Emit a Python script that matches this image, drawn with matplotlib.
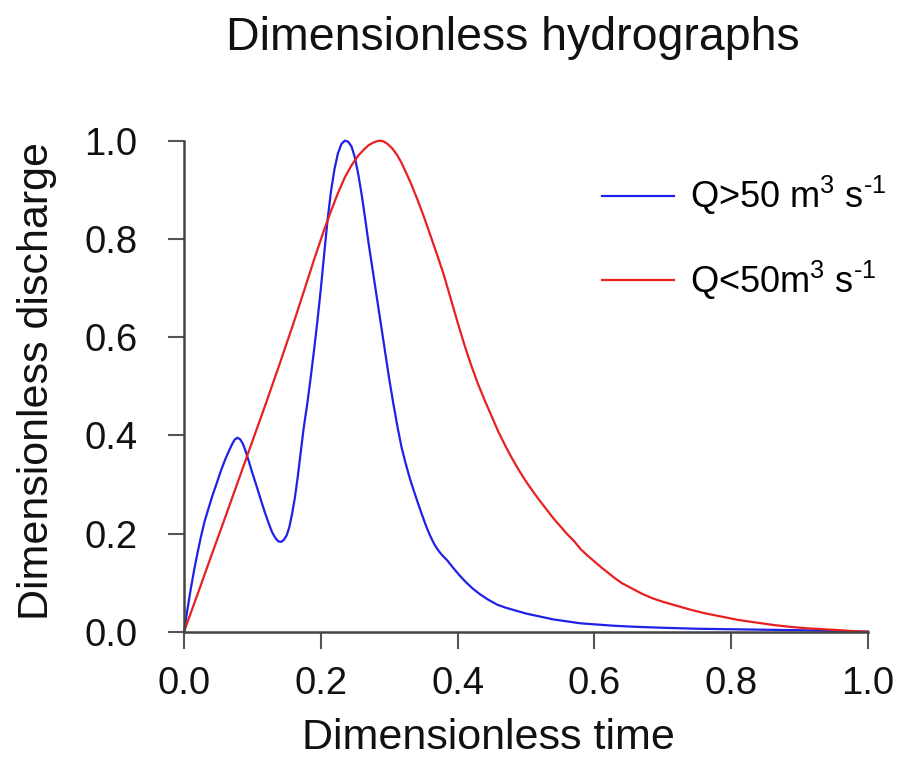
import matplotlib
matplotlib.use('Agg')
import matplotlib.pyplot as plt

plt.rcParams['font.family'] = ['Liberation Sans', 'DejaVu Sans']
plt.rcParams['mathtext.fontset'] = 'custom'
plt.rcParams['mathtext.rm'] = 'Liberation Sans'
plt.rcParams['mathtext.it'] = 'Liberation Sans:italic'

# Q > 50 m3/s (blue)
t_high = [0.000, 0.005, 0.010, 0.015, 0.020, 0.025, 0.030, 0.036, 0.042, 0.048,
          0.054, 0.060, 0.065, 0.070, 0.074, 0.078, 0.082, 0.086, 0.090, 0.095,
          0.100, 0.106, 0.112, 0.118, 0.124, 0.129, 0.134, 0.138, 0.142, 0.146,
          0.150, 0.154, 0.158, 0.162, 0.166, 0.170, 0.175, 0.180, 0.185, 0.190,
          0.195, 0.200, 0.205, 0.210, 0.215, 0.220, 0.225, 0.230, 0.235, 0.240,
          0.245, 0.250, 0.255, 0.260, 0.265, 0.270, 0.276, 0.282, 0.288, 0.294,
          0.300, 0.306, 0.312, 0.318, 0.324, 0.330, 0.336, 0.342, 0.348, 0.354,
          0.360, 0.366, 0.372, 0.378, 0.385, 0.393, 0.402, 0.412, 0.422, 0.433,
          0.445, 0.458, 0.470, 0.485, 0.500, 0.520, 0.540, 0.560, 0.580, 0.600,
          0.630, 0.660, 0.700, 0.750, 0.800, 0.850, 0.900, 0.950, 1.000]
q_high = [0.000, 0.045, 0.088, 0.127, 0.162, 0.195, 0.224, 0.252, 0.279, 0.303,
          0.328, 0.350, 0.366, 0.381, 0.391, 0.395, 0.392, 0.383, 0.368, 0.346,
          0.323, 0.297, 0.270, 0.244, 0.220, 0.202, 0.190, 0.184, 0.183, 0.187,
          0.196, 0.213, 0.240, 0.272, 0.312, 0.358, 0.415, 0.462, 0.515, 0.572,
          0.632, 0.698, 0.770, 0.840, 0.898, 0.942, 0.974, 0.993, 1.000, 0.998,
          0.988, 0.965, 0.930, 0.888, 0.840, 0.790, 0.735, 0.680, 0.625, 0.570,
          0.515, 0.465, 0.418, 0.376, 0.343, 0.313, 0.287, 0.262, 0.238, 0.215,
          0.195, 0.178, 0.165, 0.155, 0.145, 0.131, 0.116, 0.101, 0.088, 0.076,
          0.065, 0.055, 0.049, 0.043, 0.037, 0.031, 0.025, 0.021, 0.017, 0.015,
          0.012, 0.010, 0.008, 0.006, 0.005, 0.004, 0.003, 0.0015, 0.000]

# Q < 50 m3/s (red)
t_low = [0.000, 0.020, 0.040, 0.060, 0.080, 0.100, 0.120, 0.140, 0.160, 0.175,
         0.190, 0.204, 0.215, 0.225, 0.235, 0.245, 0.255, 0.263, 0.270, 0.278,
         0.285, 0.291, 0.297, 0.304, 0.311, 0.318, 0.325, 0.333, 0.341, 0.350,
         0.360, 0.370, 0.380, 0.390, 0.400, 0.410, 0.420, 0.430, 0.440, 0.450,
         0.460, 0.470, 0.480, 0.490, 0.500, 0.510, 0.520, 0.530, 0.540, 0.550,
         0.560, 0.570, 0.580, 0.590, 0.600, 0.610, 0.620, 0.630, 0.640, 0.655,
         0.670, 0.685, 0.700, 0.720, 0.740, 0.760, 0.785, 0.810, 0.835, 0.860,
         0.885, 0.910, 0.935, 0.960, 0.980, 1.000]
q_low = [0.000, 0.077, 0.155, 0.232, 0.310, 0.388, 0.466, 0.546, 0.628, 0.692,
         0.757, 0.815, 0.857, 0.893, 0.925, 0.950, 0.970, 0.982, 0.991, 0.997,
         1.000, 0.999, 0.994, 0.985, 0.972, 0.955, 0.934, 0.909, 0.881, 0.848,
         0.808, 0.768, 0.726, 0.678, 0.630, 0.584, 0.542, 0.504, 0.470, 0.438,
         0.406, 0.378, 0.352, 0.328, 0.306, 0.286, 0.267, 0.249, 0.231, 0.215,
         0.199, 0.185, 0.168, 0.155, 0.143, 0.131, 0.120, 0.109, 0.099, 0.088,
         0.077, 0.068, 0.061, 0.053, 0.045, 0.038, 0.031, 0.024, 0.019, 0.014,
         0.010, 0.007, 0.005, 0.003, 0.001, 0.000]

labels = [r'Q>50 m$^3$ s$^{\text{-1}}$', r'Q<50m$^3$ s$^{\text{-1}}$']
ticks = [0.0, 0.2, 0.4, 0.6, 0.8, 1.0]
tick_labels = ['0.0', '0.2', '0.4', '0.6', '0.8', '1.0']

fig = plt.figure(figsize=(9.12, 7.58), dpi=100)
ax = fig.add_axes([184 / 912, 1 - 631.7 / 758, 684 / 912, 491 / 758])

ax.plot(t_high, q_high, color='#2020e8', lw=1.6, clip_on=False,
        solid_joinstyle='round', label=labels[0])
ax.plot(t_low, q_low, color='#e82020', lw=1.6, clip_on=False,
        solid_joinstyle='round', label=labels[1])

ax.set_xlim(0, 1)
ax.set_ylim(0, 1)
ax.set_xticks(ticks)
ax.set_xticklabels(tick_labels)
ax.set_yticks(ticks)
ax.set_yticklabels(tick_labels)

for side in ['top', 'right']:
    ax.spines[side].set_visible(False)
for side in ['left', 'bottom']:
    ax.spines[side].set_color('#444444')
    ax.spines[side].set_linewidth(1.8)

ax.tick_params(axis='both', direction='out', color='#555555', width=1.5,
               labelsize=27.5, labelcolor='#111111')
ax.tick_params(axis='y', length=11.5, pad=22)
ax.tick_params(axis='x', length=12.5, pad=12)

leg = ax.legend(loc='upper left', bbox_to_anchor=(602 / 912, 1 - 174 / 758),
                bbox_transform=fig.transFigure, frameon=False, fontsize=26,
                handlelength=2.0, handletextpad=0.45, labelspacing=1.15,
                borderpad=0, borderaxespad=0)

fig.text(513 / 912, 1 - 50 / 758, 'Dimensionless hydrographs', ha='center',
         va='baseline', fontsize=33.5, color='#111111')
fig.text(488 / 912, 1 - 749 / 758, 'Dimensionless time', ha='center',
         va='baseline', fontsize=31, color='#111111')
fig.text(37 / 912, 1 - 381 / 758, 'Dimensionless discharge', ha='center',
         va='center', rotation=90, fontsize=31, color='#111111')

fig.savefig('out.png', dpi=100)
